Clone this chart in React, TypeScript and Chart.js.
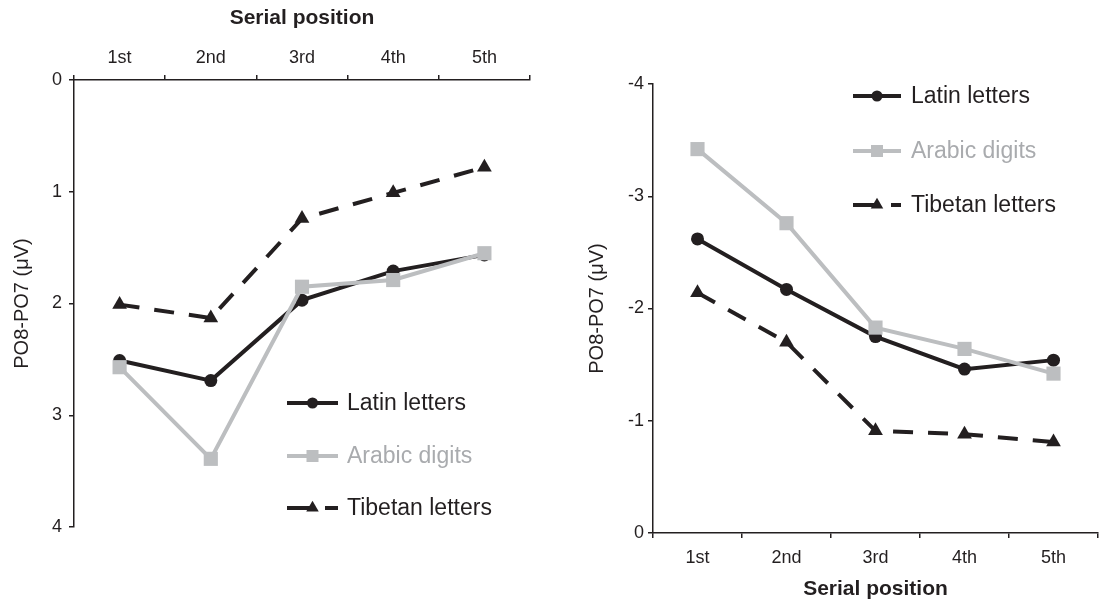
import React, { useEffect, useRef } from 'react';
import { Chart, registerables } from 'chart.js';

Chart.register(...registerables);

// Category labels shared by both panels
const serialPositions = ['1st', '2nd', '3rd', '4th', '5th'];
const seriesNames = ['Latin letters', 'Arabic digits', 'Tibetan letters'];

// Left panel: PO8-PO7 amplitude (µV), axis runs 0 (top) to 4 (bottom)
const latinLeft = [2.51, 2.69, 1.97, 1.71, 1.565];
const arabicLeft = [2.57, 3.39, 1.85, 1.79, 1.55];
const tibetanLeft = [2.01, 2.13, 1.24, 1.01, 0.78];
const leftRange = [0, 4];

// Right panel: PO8-PO7 amplitude (µV), axis runs -4 (top) to 0 (bottom)
const latinRight = [-2.62, -2.17, -1.75, -1.46, -1.54];
const arabicRight = [-3.42, -2.76, -1.83, -1.64, -1.42];
const tibetanRight = [-2.14, -1.7, -0.91, -0.88, -0.81];
const rightRange = [-4, 0];

const INK = '#231f20';
const GREY = '#bcbec0';
const GREY_TEXT = '#a9abae';
const FONT = '"Liberation Sans", Arial, Helvetica, sans-serif';
const legendTextColors = [INK, GREY_TEXT, INK];

Chart.defaults.font.family = FONT;

function drawMarker(ctx: CanvasRenderingContext2D, style: string, x: number, y: number, r: number) {
  ctx.beginPath();
  if (style === 'circle') {
    ctx.arc(x, y, r, 0, Math.PI * 2);
  } else if (style === 'rect') {
    const h = Math.SQRT1_2 * r;
    ctx.rect(x - h, y - h, 2 * h, 2 * h);
  } else if (style === 'triangle') {
    let a = 0;
    ctx.moveTo(x + Math.sin(a) * r, y - Math.cos(a) * r);
    a += (2 * Math.PI) / 3;
    ctx.lineTo(x + Math.sin(a) * r, y - Math.cos(a) * r);
    a += (2 * Math.PI) / 3;
    ctx.lineTo(x + Math.sin(a) * r, y - Math.cos(a) * r);
    ctx.closePath();
  }
  ctx.fill();
}

// Key drawn inside the plot: a line sample with its marker, then the series name
const seriesKeyPlugin = {
  id: 'seriesKey',
  afterDatasetsDraw(chart: any, _args: any, opts: any) {
    const { ctx } = chart;
    const { x0, x1, textX, rows, sampleDash, fontSize } = opts;
    chart.data.datasets.forEach((ds: any, i: number) => {
      const y = rows[i];
      ctx.save();
      ctx.strokeStyle = ds.borderColor;
      ctx.lineWidth = ds.borderWidth;
      ctx.lineCap = 'butt';
      ctx.setLineDash(ds.borderDash && ds.borderDash.length ? sampleDash : []);
      ctx.beginPath();
      ctx.moveTo(x0, y);
      ctx.lineTo(x1, y);
      ctx.stroke();
      ctx.setLineDash([]);
      ctx.fillStyle = ds.pointBackgroundColor;
      drawMarker(ctx, ds.pointStyle, (x0 + x1) / 2, y, ds.pointRadius * 0.85);
      ctx.fillStyle = legendTextColors[i];
      ctx.font = `${fontSize}px ${FONT}`;
      ctx.textBaseline = 'middle';
      ctx.textAlign = 'left';
      ctx.fillText(seriesNames[i], textX, y + 1);
      ctx.restore();
    });
  },
};

function makeDatasets(latin: number[], arabic: number[], tibetan: number[]) {
  return [
    {
      label: seriesNames[0],
      data: latin,
      borderColor: INK,
      backgroundColor: INK,
      pointBackgroundColor: INK,
      borderWidth: 4,
      pointStyle: 'circle',
      pointRadius: 6.5,
      pointBorderWidth: 0,
      order: 1,
    },
    {
      label: seriesNames[1],
      data: arabic,
      borderColor: GREY,
      backgroundColor: GREY,
      pointBackgroundColor: GREY,
      borderWidth: 4,
      pointStyle: 'rect',
      pointRadius: 10,
      pointBorderWidth: 0,
      order: 0,
    },
    {
      label: seriesNames[2],
      data: tibetan,
      borderColor: INK,
      backgroundColor: INK,
      pointBackgroundColor: INK,
      borderWidth: 4,
      borderDash: [20, 15],
      pointStyle: 'triangle',
      pointRadius: 8.5,
      pointBorderWidth: 0,
      order: 2,
    },
  ];
}

interface PanelSpec {
  xPosition: 'top' | 'bottom';
  xHeight: number;
  yWidth: number;
  range: number[];
  padding: { top: number; right: number; bottom: number; left: number };
  xTickPad: number;
  yTickPad: number;
  xTitlePad: { top: number; bottom: number };
  yTitlePad: number;
  key: any;
}

function makeConfig(datasets: any[], spec: PanelSpec): any {
  return {
    type: 'line',
    data: { labels: serialPositions, datasets },
    plugins: [seriesKeyPlugin],
    options: {
      responsive: false,
      animation: false,
      devicePixelRatio: 1,
      layout: { padding: spec.padding },
      plugins: {
        legend: { display: false },
        tooltip: { enabled: false },
        seriesKey: spec.key,
      },
      scales: {
        x: {
          type: 'category',
          position: spec.xPosition,
          offset: true,
          grid: {
            offset: true,
            drawOnChartArea: false,
            drawTicks: true,
            tickLength: 5,
            color: INK,
            lineWidth: 1.5,
          },
          border: { display: true, color: INK, width: 1.5 },
          ticks: {
            color: INK,
            font: { family: FONT, size: 18 },
            padding: spec.xTickPad,
            maxRotation: 0,
            autoSkip: false,
          },
          title: {
            display: true,
            text: 'Serial position',
            color: INK,
            font: { family: FONT, size: 21, weight: 'bold', lineHeight: 1.1 },
            padding: spec.xTitlePad,
          },
          afterFit: (s: any) => {
            s.height = spec.xHeight;
          },
        },
        y: {
          type: 'linear',
          position: 'left',
          reverse: true,
          min: spec.range[0],
          max: spec.range[1],
          grid: {
            drawOnChartArea: false,
            drawTicks: true,
            tickLength: 5,
            color: INK,
            lineWidth: 1.5,
          },
          border: { display: true, color: INK, width: 1.5 },
          ticks: {
            stepSize: 1,
            color: INK,
            font: { family: FONT, size: 18 },
            padding: spec.yTickPad,
          },
          title: {
            display: true,
            text: 'PO8-PO7 (μV)',
            color: INK,
            font: { family: FONT, size: 20 },
            padding: { top: spec.yTitlePad, bottom: 0 },
          },
          afterFit: (s: any) => {
            s.width = spec.yWidth;
          },
        },
      },
    },
  };
}

const PANEL_W = 554;
const PANEL_H = 601;

export default function App() {
  const leftRef = useRef<HTMLCanvasElement | null>(null);
  const rightRef = useRef<HTMLCanvasElement | null>(null);

  useEffect(() => {
    if (!leftRef.current || !rightRef.current) return;

    const leftChart = new Chart(
      leftRef.current,
      makeConfig(makeDatasets(latinLeft, arabicLeft, tibetanLeft), {
        xPosition: 'top',
        xHeight: 80,
        yWidth: 74,
        range: leftRange,
        padding: { top: 0, right: 24, bottom: 74, left: 0 },
        xTickPad: 6,
        yTickPad: 7,
        xTitlePad: { top: 7, bottom: 0 },
        yTitlePad: 10,
        key: {
          x0: 287,
          x1: 338,
          textX: 347,
          rows: [403, 456, 508],
          sampleDash: [25, 13],
          fontSize: 23,
        },
      })
    );

    const rightChart = new Chart(
      rightRef.current,
      makeConfig(makeDatasets(latinRight, arabicRight, tibetanRight), {
        xPosition: 'bottom',
        xHeight: 68,
        yWidth: 99,
        range: rightRange,
        padding: { top: 84, right: 1, bottom: 0, left: 0 },
        xTickPad: 9,
        yTickPad: 4,
        xTitlePad: { top: 0, bottom: 0 },
        yTitlePad: 31,
        key: {
          x0: 853 - PANEL_W,
          x1: 901 - PANEL_W,
          textX: 911 - PANEL_W,
          rows: [96, 151, 205],
          sampleDash: [25, 13],
          fontSize: 23,
        },
      })
    );

    return () => {
      leftChart.destroy();
      rightChart.destroy();
    };
  }, []);

  return (
    <div
      style={{
        position: 'fixed',
        left: 0,
        top: 0,
        width: PANEL_W * 2,
        height: PANEL_H,
        background: '#ffffff',
      }}
    >
      <div style={{ position: 'absolute', left: 0, top: 0, width: PANEL_W, height: PANEL_H }}>
        <canvas ref={leftRef} width={PANEL_W} height={PANEL_H} style={{ width: PANEL_W, height: PANEL_H }} />
      </div>
      <div style={{ position: 'absolute', left: PANEL_W, top: 0, width: PANEL_W, height: PANEL_H }}>
        <canvas ref={rightRef} width={PANEL_W} height={PANEL_H} style={{ width: PANEL_W, height: PANEL_H }} />
      </div>
    </div>
  );
}
